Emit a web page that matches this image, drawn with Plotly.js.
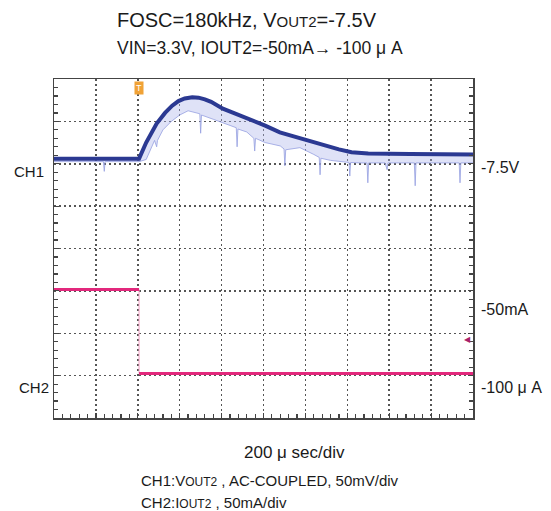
<!DOCTYPE html>
<html>
<head>
<meta charset="utf-8">
<script src="https://cdn.plot.ly/plotly-3.0.1.min.js"></script>
<style>html,body{margin:0;padding:0;background:#fff;}#chart{width:551px;height:511px;}</style>
</head>
<body>
<div id="chart"></div>
<script>
// Time axis in divisions (10 div = 2 ms, 200 µs/div); vertical in graticule divisions (0..8)
const ch1X = [0, 2.03, 2.2, 2.45, 2.65, 2.82, 2.97, 3.12, 3.3, 3.45, 3.6, 3.75, 4.03, 4.56, 5.04, 5.39, 5.87, 6.3, 6.8, 7.1, 7.5, 8.5, 10];
const ch1Y = [6.12, 6.12, 6.5, 6.95, 7.2, 7.37, 7.48, 7.54, 7.57, 7.56, 7.52, 7.46, 7.30, 7.10, 6.90, 6.74, 6.60, 6.48, 6.34, 6.27, 6.24, 6.23, 6.22];

// lower envelope of the light (persistence) band of CH1, with its visible spikes
const ch1EnvX = [0, 1.18, 1.2, 1.22, 2.03, 2.2, 2.4, 2.45, 2.47, 2.6, 2.8, 3.0, 3.2, 3.48, 3.5, 3.52, 3.8, 4.0, 4.35, 4.37, 4.39, 4.6, 4.77, 4.79, 4.81, 5.04, 5.4, 5.49, 5.51, 5.53, 5.87, 6.2, 6.33, 6.35, 6.37, 6.6, 7.04, 7.06, 7.08, 7.3, 7.47, 7.49, 7.51, 7.9, 7.95, 7.97, 8.6, 8.62, 8.64, 9.0, 9.67, 9.69, 9.71, 10];
const ch1EnvY = [6.05, 6.05, 5.82, 6.05, 6.05, 6.1, 6.55, 6.4, 6.55, 6.8, 7.0, 7.15, 7.25, 7.18, 6.72, 7.15, 7.05, 6.98, 6.85, 6.4, 6.82, 6.75, 6.6, 6.3, 6.6, 6.5, 6.42, 6.35, 5.95, 6.33, 6.38, 6.22, 6.15, 5.74, 6.13, 6.08, 6.03, 5.71, 6.03, 6.02, 6.02, 5.55, 6.02, 6.02, 5.86, 6.02, 6.02, 5.48, 6.02, 6.02, 6.02, 5.55, 6.02, 6.02];

const ch2X = [0, 2.03, 2.03, 10];
const ch2Y = [3.03, 3.03, 1.05, 1.05];

const triggerX = 2.03;
const ch2MarkerY = 1.86;

const titleLine1 = 'FOSC=180kHz, V<span style="font-size:15px">OUT2</span>=-7.5V';
const titleLine2 = 'VIN=3.3V, IOUT2=-50mA→ -100 μ A';
const rightLabels = ['-7.5V', '-50mA', '-100 μ A'];
const leftLabels = ['CH1', 'CH2'];
const xLabel = '200 μ sec/div';
const noteLines = ['CH1:V<span style="font-size:12px">OUT2</span> , AC-COUPLED, 50mV/div', 'CH2:I<span style="font-size:12px">OUT2</span> , 50mA/div'];

const FONT = 'Arial, "Liberation Sans", sans-serif';
const TXT = '#1a1a1a';

const traces = [
  {x: ch1X, y: ch1Y, mode: 'lines', line: {width: 0, color: 'rgba(0,0,0,0)'}, hoverinfo: 'skip', showlegend: false},
  {x: ch1EnvX, y: ch1EnvY, mode: 'lines', fill: 'tonexty', fillcolor: 'rgba(170,180,235,0.38)',
   line: {width: 1, color: 'rgba(150,160,225,0.8)'}, hoverinfo: 'skip', showlegend: false},
  {x: ch1X, y: ch1Y, mode: 'lines', line: {width: 4, color: '#2b3992'}, showlegend: false},
  {x: ch2X.slice(1, 3), y: ch2Y.slice(1, 3), mode: 'lines', line: {width: 1, color: '#f2a0c4'}, showlegend: false},
  {x: ch2X.slice(0, 2), y: ch2Y.slice(0, 2), mode: 'lines', line: {width: 3, color: '#e2287c'}, showlegend: false},
  {x: ch2X.slice(2, 4), y: ch2Y.slice(2, 4), mode: 'lines', line: {width: 3, color: '#e2287c'}, showlegend: false}
];

function ann(text, x, y, opts) {
  return Object.assign({text: text, x: x, y: y, xref: 'paper', yref: 'paper', showarrow: false, align: 'left',
    xanchor: 'left', yanchor: 'middle', font: {family: FONT, size: 16, color: TXT}}, opts || {});
}

const annotations = [
  ann(titleLine1, 0.4606, 1.174, {xanchor: 'center', align: 'center', font: {family: FONT, size: 20, color: TXT}}),
  ann(titleLine2, 0.4916, 1.091, {xanchor: 'center', align: 'center', font: {family: FONT, size: 17.5, color: TXT}}),
  ann(rightLabels[0], 1.015, 0.740),
  ann(rightLabels[1], 1.015, 0.319),
  ann(rightLabels[2], 1.015, 0.0885),
  ann(leftLabels[0], -0.020, 0.726, {xanchor: 'right', font: {family: FONT, size: 15, color: TXT}}),
  ann(leftLabels[1], -0.007, 0.0885, {xanchor: 'right', font: {family: FONT, size: 15, color: TXT}}),
  ann(xLabel, 0.575, -0.103, {xanchor: 'center', align: 'center', font: {family: FONT, size: 17, color: TXT}}),
  ann(noteLines[0], 0.203, -0.183, {font: {family: FONT, size: 15, color: TXT}}),
  ann(noteLines[1], 0.203, -0.248, {font: {family: FONT, size: 15, color: TXT}}),
  {text: 'T', x: triggerX, xref: 'x', y: 0.973, yref: 'paper', showarrow: false,
   font: {family: FONT, size: 9, color: '#ffffff'}, bgcolor: '#f0a236', borderpad: 1, xanchor: 'center', yanchor: 'middle'},
  {text: '◀', x: 1.0, xref: 'paper', y: ch2MarkerY, yref: 'y', showarrow: false, xanchor: 'right', yanchor: 'middle',
   font: {family: FONT, size: 8, color: '#a8206a'}}
];

const gridStyle = {color: '#555555', width: 1.5, dash: '2px,3px'};

const layout = {
  width: 551, height: 511,
  margin: {l: 54, r: 78, t: 79, b: 93, pad: 0},
  paper_bgcolor: '#ffffff', plot_bgcolor: '#ffffff',
  showlegend: false,
  xaxis: {range: [0, 10], dtick: 1, tick0: 0, showticklabels: false, zeroline: false,
    showgrid: true, gridcolor: gridStyle.color, gridwidth: gridStyle.width, griddash: gridStyle.dash,
    ticks: 'inside', ticklen: 5, tickcolor: '#444', tickwidth: 1.2,
    minor: {dtick: 0.2, ticks: 'inside', ticklen: 4, tickcolor: '#444', tickwidth: 1.2, showgrid: false},
    showline: true, linecolor: '#444', linewidth: 1.5, mirror: true, fixedrange: true},
  yaxis: {range: [0, 8], dtick: 1, tick0: 0, showticklabels: false, zeroline: false,
    showgrid: true, gridcolor: gridStyle.color, gridwidth: gridStyle.width, griddash: gridStyle.dash,
    ticks: 'inside', ticklen: 5, tickcolor: '#444', tickwidth: 1.2,
    minor: {dtick: 0.2, ticks: 'inside', ticklen: 4, tickcolor: '#444', tickwidth: 1.2, showgrid: false},
    showline: true, linecolor: '#444', linewidth: 1.5, mirror: 'ticks', fixedrange: true},
  annotations: annotations
};

Plotly.newPlot('chart', traces, layout, {staticPlot: true, displayModeBar: false});
</script>
</body>
</html>
